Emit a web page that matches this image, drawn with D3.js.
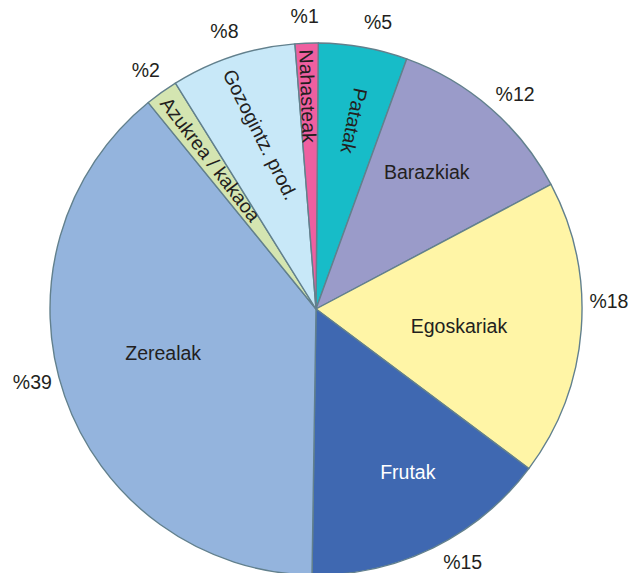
<!DOCTYPE html>
<html>
<head>
  <meta charset="utf-8">
  <title></title>
  <style type="text/css">
    body {margin: 0; background: #fff}
    text {font-family: "Liberation Sans", Arial, sans-serif; font-size: 19.5px; fill: #231f20}
  </style>
</head>
<body>
<script src="https://d3js.org/d3.v7.min.js"></script>

<div id="my_dataviz"></div>
<script>
// slices, clockwise from 12 o'clock
var categories = ["Patatak", "Barazkiak", "Egoskariak", "Frutak", "Zerealak",
                  "Azukrea / kakaoa", "Gozogintz. prod.", "Nahasteak"];
var shares = [5.4, 11.7, 18.0, 15.0, 38.9, 2.0, 7.6, 1.4];
var percentLabels = ["%5", "%12", "%18", "%15", "%39", "%2", "%8", "%1"];
var colors = ["#17bcc8", // teal
              "#9a9bc9", // lavender
              "#fff5a6", // pale yellow
              "#3f68b1", // blue
              "#94b4dd", // light blue
              "#d4e5b1", // pale green
              "#c8e8f8", // pale sky
              "#ef5fa0"  // pink
             ];

var width = 636, height = 573;
var cx = 316, cy = 309, radius = 266;
var deg = Math.PI / 180;

var svg = d3.select("#my_dataviz")
  .append("svg")
    .attr("width", width)
    .attr("height", height);
var g = svg.append("g")
    .attr("transform", "translate(" + cx + "," + cy + ")");

var data = categories.map(function(c, i) {
  return {name: c, value: shares[i], pct: percentLabels[i], color: colors[i]};
});

var pie = d3.pie()
    .sort(null)
    .value(function(d) { return d.value })
    .startAngle(0.5 * deg)
    .endAngle(360.5 * deg);
var arcs = pie(data);

var arc = d3.arc().innerRadius(0).outerRadius(radius);

// slices
g.append("g")
  .selectAll("path")
  .data(arcs)
  .enter()
  .append("path")
    .attr("d", arc)
    .attr("fill", function(d) { return d.data.color })
    .attr("stroke", "#62808d")
    .attr("stroke-width", 1.4)
    .attr("stroke-linejoin", "round");

function mid(d) { return (d.startAngle + d.endAngle) / 2 }

// label spots inside the slices: angle (deg), radius, rotation
var inside = [
  {a: 11.4, r: 192, rot: 102},
  {a: 39, r: 176, rot: 0},
  {a: 97, r: 144, rot: 0},
  {a: 150.6, r: 187, rot: 0},
  {a: 254, r: 159, rot: 0},
  {a: 324.8, r: 183, rot: 52.6},
  {a: 342.3, r: 183, rot: 63.4},
  {a: -2.2, r: 213, rot: 88}
];
g.append("g")
  .selectAll("text")
  .data(arcs)
  .enter()
  .append("text")
    .attr("transform", function(d, i) {
      var p = d3.pointRadial(inside[i].a * deg, inside[i].r);
      return "translate(" + p[0] + "," + p[1] + ") rotate(" + inside[i].rot + ")";
    })
    .attr("text-anchor", "middle")
    .attr("dy", "0.35em")
    .style("fill", function(d, i) { return i == 3 ? "#ffffff" : "#231f20" })
    .text(function(d) { return d.data.name });

// percentages outside
var nudge = [2, 1.8, -6, -3.9, 4.6, 0, 0, -0.2];
g.append("g")
  .selectAll("text")
  .data(arcs)
  .enter()
  .append("text")
    .attr("transform", function(d, i) {
      var p = d3.pointRadial(mid(d) + nudge[i] * deg, 293);
      return "translate(" + p[0] + "," + p[1] + ")";
    })
    .attr("text-anchor", "middle")
    .attr("dy", "0.35em")
    .text(function(d) { return d.data.pct });
</script>
</body>
</html>
